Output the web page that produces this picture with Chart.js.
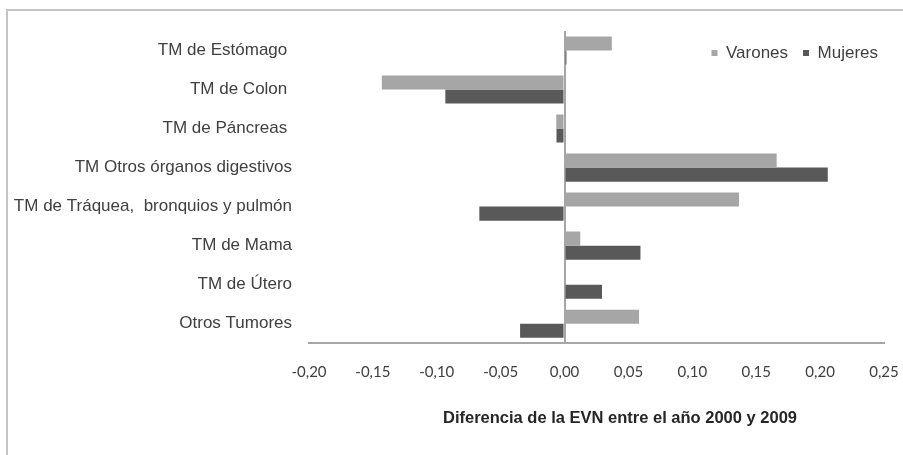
<!DOCTYPE html>
<html>
<head>
<meta charset="utf-8">
<script src="https://cdn.jsdelivr.net/npm/chart.js@4.4.1/dist/chart.umd.min.js"></script>
<style>
  html, body { margin: 0; padding: 0; background: #ffffff; }
  #wrap { position: relative; width: 903px; height: 455px; overflow: hidden; }
  #frame { position: absolute; left: 6px; top: 9px; width: 920px; height: 470px;
           border-top: 2px solid #c4c4c4; border-left: 2px solid #c4c4c4; }
  #c { position: absolute; left: 0; top: 0; }
</style>
</head>
<body>
<div id="wrap">
  <div id="frame"></div>
  <canvas id="c" width="903" height="455"></canvas>
</div>
<script>
const categories = [
  'TM de Estómago ',
  'TM de Colon ',
  'TM de Páncreas ',
  'TM Otros órganos digestivos',
  'TM de Tráquea,  bronquios y pulmón',
  'TM de Mama',
  'TM de Útero',
  'Otros Tumores'
];
const seriesNames = ['Varones', 'Mujeres'];
const varones = [0.037, -0.143, -0.0065, 0.166, 0.1365, 0.0123, 0, 0.0583];
const mujeres = [0.0015, -0.0933, -0.0063, 0.206, -0.0667, 0.0594, 0.0293, -0.0348];
const xTickLabels = ['-0,20', '-0,15', '-0,10', '-0,05', '0,00', '0,05', '0,10', '0,15', '0,20', '0,25'];
const xTitle = 'Diferencia de la EVN entre el año 2000 y 2009';

Chart.defaults.font.family = "'Liberation Sans', Arial, sans-serif";
Chart.defaults.color = '#404040';

const overlayPlugin = {
  id: 'overlayPlugin',
  beforeInit(chart) {
    const lg = chart.legend;
    const origFit = lg.fit;
    lg.fit = function () { origFit.call(this); this.height = 0; };
  },
  afterLayout(chart) {
    const lg = chart.legend;
    lg.left = 560; lg.right = 893; lg.width = lg.right - lg.left;
    lg.top = 29.5; lg.height = 50; lg.bottom = lg.top + lg.height;
    const tb = chart.titleBlock;
    if (tb) {
      const center = 620;
      tb.left = center - 220; tb.right = center + 220; tb.width = 440;
    }
  }
};

new Chart(document.getElementById('c'), {
  type: 'bar',
  data: {
    labels: categories,
    datasets: [
      { label: seriesNames[0], data: varones, backgroundColor: '#a6a6a6', borderWidth: 0,
        barPercentage: 1, categoryPercentage: 0.72 },
      { label: seriesNames[1], data: mujeres, backgroundColor: '#595959', borderWidth: 0,
        barPercentage: 1, categoryPercentage: 0.72 }
    ]
  },
  options: {
    indexAxis: 'y',
    responsive: false,
    animation: false,
    devicePixelRatio: 1,
    layout: { padding: { top: 31, right: 19, bottom: 17, left: 0 } },
    scales: {
      x: {
        type: 'linear',
        min: -0.2,
        max: 0.25,
        ticks: {
          stepSize: 0.05,
          padding: 20,
          color: '#404040',
          font: { family: "Lato, 'Open Sans', sans-serif", size: 15 },
          callback: (v, i) => (xTickLabels[i] !== undefined ? xTickLabels[i] : v.toFixed(2).replace('.', ','))
        },
        grid: {
          display: true,
          drawTicks: false,
          lineWidth: 2,
          color: (c) => (c.tick && Math.abs(c.tick.value) < 1e-9 ? '#a6a6a6' : 'rgba(0,0,0,0)')
        },
        border: { display: true, color: '#a6a6a6', width: 2 },
        afterFit: (scale) => { scale.height = 38; scale.paddingLeft = 0; scale.paddingRight = 0; }
      },
      y: {
        type: 'category',
        grid: { display: false, drawTicks: false },
        border: { display: false },
        ticks: {
          padding: 17,
          color: '#404040',
          font: { size: 17 },
          autoSkip: false
        },
        afterFit: (scale) => { scale.width = 309; scale.paddingTop = 0; scale.paddingBottom = 0; }
      }
    },
    plugins: {
      legend: {
        display: true,
        position: 'top',
        align: 'end',
        labels: {
          boxWidth: 6,
          boxHeight: 6,
          padding: 15,
          color: '#404040',
          font: { size: 17 }
        }
      },
      title: {
        display: true,
        position: 'bottom',
        text: xTitle,
        color: '#262626',
        font: { size: 16.5, weight: 'bold' },
        padding: { top: 27, bottom: 10 }
      },
      tooltip: { enabled: false }
    }
  },
  plugins: [overlayPlugin]
});
</script>
</body>
</html>
